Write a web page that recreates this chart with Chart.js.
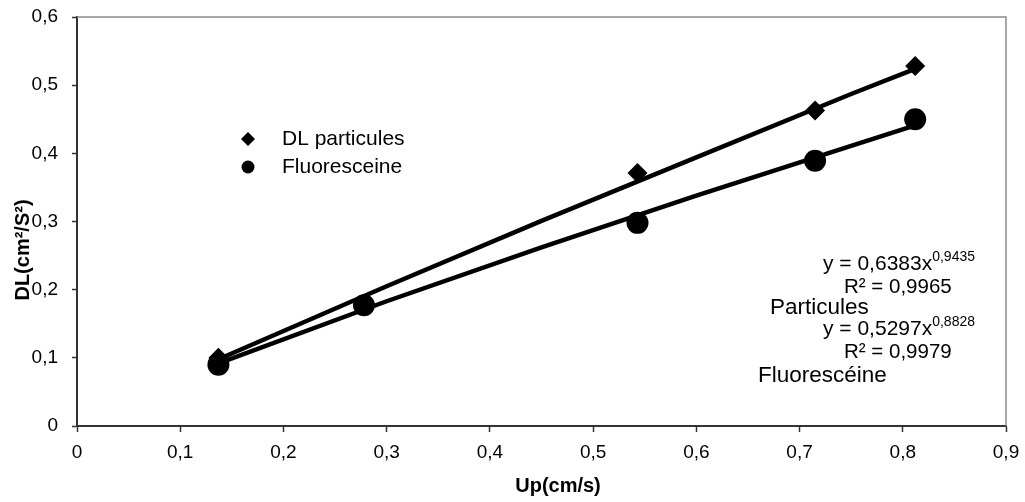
<!DOCTYPE html>
<html>
<head>
<meta charset="utf-8">
<script src="https://cdn.jsdelivr.net/npm/chart.js@4.4.1/dist/chart.umd.min.js"></script>
<style>
  html, body { margin: 0; padding: 0; background: #fff; }
  #wrap { position: relative; width: 1025px; height: 502px; }
</style>
</head>
<body>
<div id="wrap"><canvas id="dlChart"></canvas></div>
<script>
// Mesures : vitesse Up (cm/s) et dispersion DL (cm²/s²)
const upParticules = [0.137, 0.543, 0.715, 0.812];
const dlParticules = [0.100, 0.371, 0.463, 0.528];
const upFluo = [0.137, 0.278, 0.543, 0.715, 0.812];
const dlFluo = [0.090, 0.177, 0.298, 0.389, 0.450];

// Courbes de tendance (puissance)
const upTendance = [0.137, 0.3, 0.45, 0.6, 0.75, 0.812];
const tendParticules = [0.098, 0.205, 0.301, 0.394, 0.487, 0.524];
const tendFluo = [0.092, 0.183, 0.262, 0.338, 0.411, 0.441];

const xTickLabels = ['0', '0,1', '0,2', '0,3', '0,4', '0,5', '0,6', '0,7', '0,8', '0,9'];
const yTickLabels = ['0', '0,1', '0,2', '0,3', '0,4', '0,5', '0,6'];

const labelsSerie = ['DL particules', 'Fluoresceine'];
const equations = [
    { eq: 'y = 0,6383x', exp: '0,9435', r2: 'R² = 0,9965', nom: 'Particules' },
    { eq: 'y = 0,5297x', exp: '0,8828', r2: 'R² = 0,9979', nom: 'Fluorescéine' }
];

const toXY = (xs, ys) => xs.map((x, i) => ({ x: x, y: ys[i] }));
const FONT = '"Liberation Sans", Arial, sans-serif';

// cadre gris haut/droite + titres d'axes + légende + équations
const decorPlugin = {
    id: 'decor',
    afterDraw(chart) {
        const c = chart.ctx;
        const a = chart.chartArea;
        c.save();
        c.strokeStyle = '#8a8a8a';
        c.lineWidth = 1.5;
        c.beginPath();
        c.moveTo(a.left, a.top);
        c.lineTo(a.right, a.top);
        c.lineTo(a.right, a.bottom);
        c.stroke();

        c.fillStyle = '#000';
        // titres d'axes
        c.font = 'bold 20px ' + FONT;
        c.textAlign = 'center';
        c.textBaseline = 'middle';
        c.fillText('Up(cm/s)', 558, 486);
        c.save();
        c.translate(23, 250);
        c.rotate(-Math.PI / 2);
        c.fillText('DL(cm²/S²)', 0, 0);
        c.restore();

        // légende
        c.font = '21px ' + FONT;
        c.textAlign = 'left';
        c.beginPath();
        c.moveTo(248 - 7, 139);
        c.lineTo(248, 139 - 7);
        c.lineTo(248 + 7, 139);
        c.lineTo(248, 139 + 7);
        c.closePath();
        c.fill();
        c.fillText(labelsSerie[0], 282, 139);
        c.beginPath();
        c.arc(248, 167, 6.5, 0, Math.PI * 2);
        c.fill();
        c.fillText(labelsSerie[1], 282, 167);

        // équations des tendances
        const rows = [264, 329];
        equations.forEach((e, i) => {
            const y0 = rows[i];
            c.font = '21px ' + FONT;
            c.fillText(e.eq, 823, y0);
            const w = c.measureText(e.eq).width;
            c.font = '14px ' + FONT;
            c.fillText(e.exp, 823 + w, y0 - 7);
            c.font = '20.5px ' + FONT;
            c.fillText(e.r2, 844, y0 + 23);
            c.font = '22.5px ' + FONT;
            c.fillText(e.nom, i === 0 ? 770 : 758, y0 + 44 + i * 3);
        });
        c.restore();
    }
};

const ctx = document.getElementById('dlChart');
const dlChart = new Chart(ctx.getContext('2d'), {
    type: 'scatter',
    data: {
        datasets: [{
            label: labelsSerie[0],
            data: toXY(upParticules, dlParticules),
            pointStyle: 'rectRot',
            pointRadius: 10,
            backgroundColor: '#000',
            borderColor: '#000',
            borderWidth: 0,
            order: 2
        }, {
            label: labelsSerie[1],
            data: toXY(upFluo, dlFluo),
            pointStyle: 'circle',
            pointRadius: 11,
            backgroundColor: '#000',
            borderColor: '#000',
            borderWidth: 0,
            order: 2
        }, {
            label: 'tendance particules',
            data: toXY(upTendance, tendParticules),
            showLine: true,
            pointRadius: 0,
            borderColor: '#000',
            borderWidth: 4.5,
            tension: 0,
            order: 1
        }, {
            label: 'tendance fluoresceine',
            data: toXY(upTendance, tendFluo),
            showLine: true,
            pointRadius: 0,
            borderColor: '#000',
            borderWidth: 4.5,
            tension: 0,
            order: 1
        }]
    },
    options: {
        responsive: true,
        maintainAspectRatio: false,
        animation: false,
        layout: { padding: { top: 17, right: 19, left: 0, bottom: 0 } },
        plugins: {
            legend: { display: false },
            tooltip: { enabled: false }
        },
        scales: {
            x: {
                type: 'linear',
                min: 0,
                max: 0.9,
                afterFit: function(scale) {
                    scale.height = 76;
                    scale.paddingLeft = 0;
                    scale.paddingRight = 0;
                },
                border: { display: true, color: '#333', width: 2 },
                grid: { drawOnChartArea: false, drawTicks: true, tickLength: 6, tickColor: '#333', tickWidth: 1.5 },
                ticks: {
                    stepSize: 0.1,
                    padding: 9,
                    color: '#000',
                    maxRotation: 0,
                    font: { family: FONT, size: 19 },
                    callback: function(value, index) { return xTickLabels[index]; }
                }
            },
            y: {
                type: 'linear',
                min: 0,
                max: 0.6,
                afterFit: function(scale) {
                    scale.width = 77;
                    scale.paddingTop = 0;
                    scale.paddingBottom = 0;
                },
                border: { display: true, color: '#333', width: 2 },
                grid: { drawOnChartArea: false, drawTicks: true, tickLength: 5, tickColor: '#333', tickWidth: 1.5 },
                ticks: {
                    stepSize: 0.1,
                    padding: 14,
                    color: '#000',
                    font: { family: FONT, size: 19 },
                    callback: function(value, index) { return yTickLabels[index]; }
                }
            }
        }
    },
    plugins: [decorPlugin]
});
</script>
</body>
</html>
